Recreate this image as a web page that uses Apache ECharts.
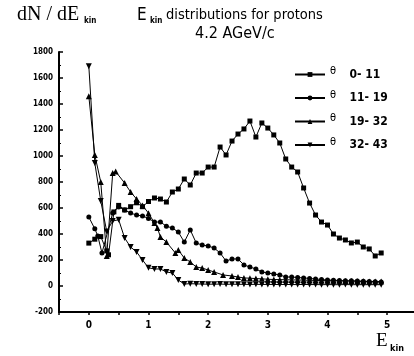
<!DOCTYPE html>
<html>
<head>
<meta charset="utf-8">
<script src="https://cdn.jsdelivr.net/npm/echarts@6/dist/echarts.min.js"></script>
<style>
  html, body { margin: 0; padding: 0; background: #fff; }
  #main { width: 414px; height: 356px; }
</style>
</head>
<body>
<div id="main"></div>
<script>
// θ 0-11 (squares)
var eA = [0, 0.1, 0.2, 0.3, 0.33, 0.42, 0.5, 0.6, 0.7, 0.8, 0.9, 1.0,
  1.1, 1.2, 1.3, 1.4, 1.5, 1.6, 1.7, 1.8, 1.9, 2.0, 2.1, 2.2, 2.3, 2.4, 2.5, 2.6, 2.7, 2.8, 2.9, 3.0,
  3.1, 3.2, 3.3, 3.4, 3.5, 3.6, 3.7, 3.8, 3.9, 4.0, 4.1, 4.2, 4.3, 4.4, 4.5, 4.6, 4.7, 4.8, 4.9];
var nA = [330, 360, 380, 270, 240, 570, 620, 585, 610, 640, 610, 650,
  677, 669, 646, 723, 746, 823, 777, 869, 869, 915, 915, 1069, 1008, 1115, 1169, 1208, 1269, 1146, 1254, 1215,
  1162, 1100, 977, 915, 877, 754, 638, 546, 492, 469, 400, 369, 354, 331, 338, 300, 285, 231, 254];

// θ 11-19 (circles)
var eB = [0, 0.1, 0.15, 0.22, 0.4, 0.5, 0.6, 0.7, 0.8, 0.9, 1.0, 1.1, 1.2, 1.3, 1.4, 1.5, 1.6, 1.7, 1.8, 1.9,
  2.0, 2.1, 2.2, 2.3, 2.4, 2.5, 2.6, 2.7, 2.8, 2.9, 3.0, 3.1, 3.2, 3.3, 3.4, 3.5, 3.6, 3.7, 3.8, 3.9,
  4.0, 4.1, 4.2, 4.3, 4.4, 4.5, 4.6, 4.7, 4.8, 4.9];
var nB = [530, 440, 385, 254, 561, 608, 585, 561, 546, 538, 520, 492, 492, 460, 446, 415, 338, 431, 331, 315,
  308, 292, 254, 192, 208, 208, 162, 146, 131, 108, 100, 92, 85, 69, 69, 65, 62, 58, 54, 50,
  46, 45, 42, 40, 40, 38, 36, 35, 33, 31];

// θ 19-32 (triangles up)
var eC = [0, 0.1, 0.2, 0.3, 0.4, 0.45, 0.6, 0.7, 0.8, 0.9, 1.0, 1.1, 1.15, 1.2, 1.3, 1.45, 1.5, 1.6, 1.7, 1.8, 1.9,
  2.0, 2.1, 2.25, 2.4, 2.5, 2.6, 2.7, 2.8, 2.9, 3.0, 3.1, 3.2, 3.3, 3.4, 3.5, 3.6, 3.7, 3.8, 3.9,
  4.0, 4.1, 4.2, 4.3, 4.4, 4.5, 4.6, 4.7, 4.8, 4.9];
var nC = [1460, 1008, 800, 230, 869, 880, 792, 723, 669, 620, 560, 485, 446, 377, 338, 254, 277, 215, 185, 146, 138,
  123, 108, 85, 77, 69, 62, 60, 57, 55, 52, 50, 49, 48, 47, 46, 45, 44, 43, 42,
  41, 40, 40, 39, 38, 37, 36, 35, 35, 34];

// θ 32-43 (triangles down)
var eD = [0, 0.1, 0.2, 0.3, 0.4, 0.5, 0.6, 0.7, 0.8, 0.9, 1.0, 1.1, 1.2, 1.3, 1.4, 1.5, 1.6, 1.7, 1.8, 1.9,
  2.0, 2.1, 2.2, 2.3, 2.4, 2.5, 2.6, 2.7, 2.8, 2.9, 3.0, 3.1, 3.2, 3.3, 3.4, 3.5, 3.6, 3.7, 3.8, 3.9,
  4.0, 4.1, 4.2, 4.3, 4.4, 4.5, 4.6, 4.7, 4.8, 4.9];
var nD = [1690, 946, 654, 420, 500, 510, 369, 300, 262, 200, 140, 131, 131, 108, 100, 46, 15, 18, 16, 15,
  14, 14, 15, 13, 14, 13, 13, 12, 13, 12, 12, 12, 11, 12, 11, 11, 12, 11, 11, 10,
  11, 10, 10, 11, 10, 10, 10, 10, 10, 10];

var seriesNames = ['0- 11', '11- 19', '19- 32', '32- 43'];
var yTicks = [-200, 1800, 200];   // min, max, step
var xRange = [-0.5, 5.45];

var narrow = '"Liberation Sans Narrow", "DejaVu Sans Condensed", "Liberation Sans", sans-serif';
var serif = '"Liberation Serif", "DejaVu Serif", serif';
var downTri = 'path://M0,0L10,0L5,9Z';

function zip(xs, ys) {
  return xs.map(function (x, i) { return [x, ys[i]]; });
}

function mkSeries(name, xs, ys, symbol, size, dash) {
  return {
    name: name,
    type: 'line',
    data: zip(xs, ys),
    symbol: symbol,
    symbolSize: size,
    showSymbol: true,
    animation: false,
    lineStyle: { color: '#000', width: 1, type: dash || 'solid' },
    itemStyle: { color: '#000' }
  };
}

var chart = echarts.init(document.getElementById('main'), null, { renderer: 'canvas' });

var option = {
  backgroundColor: '#fff',
  animation: false,
  grid: { left: 59, right: 0, top: 52, bottom: 44 },
  legend: {
    orient: 'vertical',
    left: 289,
    top: 61,
    itemWidth: 30,
    itemHeight: 6,
    itemGap: 9,
    textStyle: {
      color: '#000',
      rich: {
        t: { fontFamily: narrow, fontSize: 11, padding: [0, 0, 6, 0] },
        v: { fontFamily: narrow, fontSize: 12, fontWeight: 'bold' }
      }
    },
    formatter: function (n) { return '{t|θ}    {v|' + n + '}'; }
  },
  xAxis: {
    type: 'value',
    min: xRange[0],
    max: xRange[1],
    interval: 0.5,
    axisLine: { onZero: false, lineStyle: { color: '#000', width: 2 } },
    axisTick: { show: true, length: 3, lineStyle: { color: '#000', width: 1.5 } },
    axisLabel: {
      color: '#000', fontFamily: narrow, fontSize: 10, fontWeight: 'bold', margin: 8,
      showMaxLabel: false,
      formatter: function (v) { return Math.abs(v - Math.round(v)) < 1e-6 ? String(Math.round(v)) : ''; }
    },
    splitLine: { show: false }
  },
  yAxis: {
    type: 'value',
    min: yTicks[0],
    max: yTicks[1],
    interval: yTicks[2],
    axisLine: { show: true, onZero: false, lineStyle: { color: '#000', width: 2 } },
    axisTick: { show: true, inside: true, length: 4, lineStyle: { color: '#000', width: 1.5 } },
    minorTick: { show: true, splitNumber: 2, length: 2, lineStyle: { color: '#000' } },
    axisLabel: {
      color: '#000', fontFamily: narrow, fontSize: 8, fontWeight: 'bold', margin: 6,
      formatter: function (v) { return String(v); }
    },
    splitLine: { show: false }
  },
  graphic: [
    { type: 'text', left: 17, top: 5, style: { text: 'dN / dE', font: '20px ' + serif, fill: '#000' } },
    { type: 'text', left: 84, top: 17, style: { text: 'kin', font: 'bold 8px ' + narrow, fill: '#000' } },
    { type: 'text', left: 137, top: 7, style: { text: 'E', font: '17px ' + narrow, fill: '#000' } },
    { type: 'text', left: 150, top: 17, style: { text: 'kin', font: 'bold 8px ' + narrow, fill: '#000' } },
    { type: 'text', left: 166, top: 8, style: { text: 'distributions for protons', font: '14.5px ' + narrow, fill: '#000' } },
    { type: 'text', left: 195, top: 26, style: { text: '4.2 AGeV/c', font: '16px ' + narrow, fill: '#000' } },
    { type: 'text', left: 376, top: 332, style: { text: 'E', font: '19px ' + serif, fill: '#000' } },
    { type: 'text', left: 390, top: 344, style: { text: 'kin', font: 'bold 9px ' + narrow, fill: '#000' } }
  ],
  series: [
    mkSeries(seriesNames[0], eA, nA, 'rect', 5),
    mkSeries(seriesNames[1], eB, nB, 'circle', 5),
    mkSeries(seriesNames[2], eC, nC, 'triangle', 6),
    mkSeries(seriesNames[3], eD, nD, downTri, 6)
  ]
};

chart.setOption(option);
</script>
</body>
</html>
